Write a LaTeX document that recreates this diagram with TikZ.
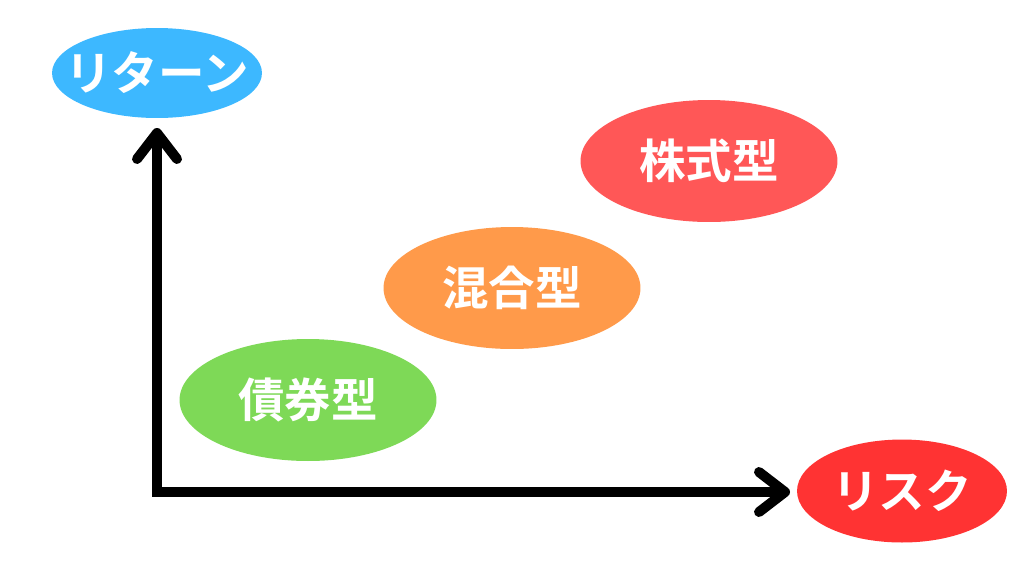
\documentclass[tikz,border=0pt]{standalone}
\usepackage{fontspec}
\setmainfont{Noto Sans CJK JP}[BoldFont={Noto Sans CJK JP Bold}]
\definecolor{returnblue}{HTML}{3DB8FF}
\definecolor{riskred}{HTML}{FF3333}
\definecolor{stockred}{HTML}{FF5757}
\definecolor{mixorange}{HTML}{FF9A4A}
\definecolor{bondgreen}{HTML}{7ED957}
\usetikzlibrary{arrows.meta, positioning, shapes.geometric}

\begin{document}
\begin{tikzpicture}[
  x=0.02cm, y=-0.02cm,
  label/.style={ellipse, inner sep=0pt, text=white, font=\fontsize{26.5}{30}\selectfont\bfseries},
  fund/.style={label, minimum width=5.14cm, minimum height=2.44cm},
  axis/.style={line width=0.2cm, line join=miter,
    {Straight Barb[length=0.52cm, width=0.8cm, round]}-{Straight Barb[length=0.52cm, width=0.8cm, round]}},
]
\useasboundingbox (0,0) rectangle (1024,576);

\node[label, fill=returnblue, inner xsep=-0.45cm, minimum width=4.2cm, minimum height=1.8cm] (ret) at (157,73) {リターン};
\node[label, fill=riskred, minimum width=4.2cm, minimum height=2.06cm] (risk) at (902,491) {リスク};

\node[fund, fill=stockred] (stock) at (709,161) {株式型};
\node[fund, fill=mixorange] (mix) at (512,288) {混合型};
\node[fund, fill=bondgreen] (bond) at (308,400) {債券型};

% Axes
\coordinate (ytip) at (157,128);
\coordinate (xtip) at (790,492);
\draw[axis] (ytip) |- (xtip);

\end{tikzpicture}
\end{document}
